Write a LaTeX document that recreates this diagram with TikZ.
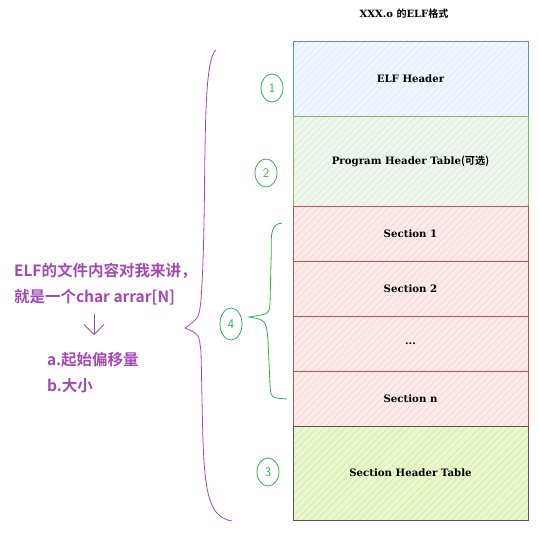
\documentclass[tikz,border=0pt]{standalone}
\usepackage{fontspec}
\setmainfont{DejaVu Serif}
\newfontfamily\cjk{Noto Sans CJK SC}[BoldFont={Noto Sans CJK SC Bold}]
\usepackage{xcolor}
\usetikzlibrary{arrows.meta,positioning,shapes.geometric,patterns.meta}
\definecolor{hdrline}{HTML}{6C8EBF}
\definecolor{hdrfill}{HTML}{DAE8FC}
\definecolor{pgmline}{HTML}{82B366}
\definecolor{pgmfill}{HTML}{D5E8D4}
\definecolor{secline}{HTML}{B85450}
\definecolor{secfill}{HTML}{F8CECC}
\definecolor{shtline}{HTML}{555555}
\definecolor{shtfill}{HTML}{CDEB8B}
\definecolor{handgreen}{HTML}{2DB34A}
\definecolor{handpurple}{HTML}{A349B4}

\begin{document}
\begin{tikzpicture}[x=1pt,y=-1pt,
          every node/.style={inner sep=0pt,outer sep=0pt},
          elfbox/.style={draw,line width=0.9pt,minimum width=235,
                         font=\bfseries\fontsize{10.2}{12}\selectfont},
          hatched/.style 2 args={draw=#1,
                         preaction={fill=#2!40},
                         pattern={Lines[angle=45,distance=5pt,line width=0.5pt]},
                         pattern color=#2},
          hdr/.style={hatched={hdrline}{hdrfill}},
          pgm/.style={hatched={pgmline}{pgmfill}},
          sec/.style={hatched={secline}{secfill},minimum height=55},
          sht/.style={hatched={shtline}{shtfill}},
          circnum/.style={draw=handgreen,ellipse,line width=0.8pt,
                          minimum width=22,minimum height=28,text=handgreen,
                          font=\sffamily\fontsize{13}{13}\selectfont},
          note/.style={anchor=west,text=handpurple,
                       font=\cjk\bfseries\fontsize{15.5}{17}\selectfont},
      ]
        \useasboundingbox (0,0) rectangle (538,540);

        \node[font=\bfseries\fontsize{10}{12}\selectfont] (title) at (404,14)
          {XXX.o {\cjk 的}ELF{\cjk 格式}};

        % the layout of the object file
        \node[elfbox,hdr,minimum height=75] (elfhdr) at (410.5,78.5) {ELF Header};
        \node[elfbox,pgm,minimum height=90,below=0 of elfhdr] (pgmhdr)
          {Program Header Table{\cjk (可选)}};
        \node[elfbox,sec,below=0 of pgmhdr] (sec1) {Section 1};
        \node[elfbox,sec,below=0 of sec1] (sec2) {Section 2};
        \node[elfbox,sec,below=0 of sec2] (secdots) {...};
        \node[elfbox,sec,below=0 of secdots] (secn) {Section n};
        \node[elfbox,sht,minimum height=94,below=0 of secn] (shtab)
          {Section Header Table};

        % hand-written marks
        \node[circnum] (mark1) at (272,88) {1};
        \node[circnum] (mark2) at (266,173) {2};
        \node[circnum,minimum height=32] (mark4) at (231,324) {4};
        \node[circnum] (mark3) at (268,472) {3};

        \draw[handgreen,line width=0.8pt]
          (282,223) .. controls (268,224) and (272,240) .. (271,262)
          -- (270,304) .. controls (269,314) .. (249,317)
          .. controls (266,320) .. (268,340)
          -- (270,385) .. controls (271,398) .. (287,399);

        \draw[handpurple,line width=0.8pt]
          (216,50) .. controls (200,62) and (208,200) .. (201,300)
          .. controls (199,318) .. (185,328)
          .. controls (199,334) .. (201,352)
          .. controls (204,470) and (200,516) .. (232,521);

        % the note on the left
        \node[note] (line1) at (14,271) {ELF的文件内容对我来讲，};
        \node[note] (line2) at (14,297) {就是一个char arrar[N]};
        \node[note] (itema) at (47,360) {a.起始偏移量};
        \node[note] (itemb) at (47,386) {b.大小};

        \coordinate (arrtop) at (94,314);
        \coordinate (arrbot) at (94,335);
        \draw[handpurple,line width=0.8pt,
              -{Straight Barb[length=10pt,width=20pt]}] (arrtop) -- (arrbot);
      \end{tikzpicture}
\end{document}
